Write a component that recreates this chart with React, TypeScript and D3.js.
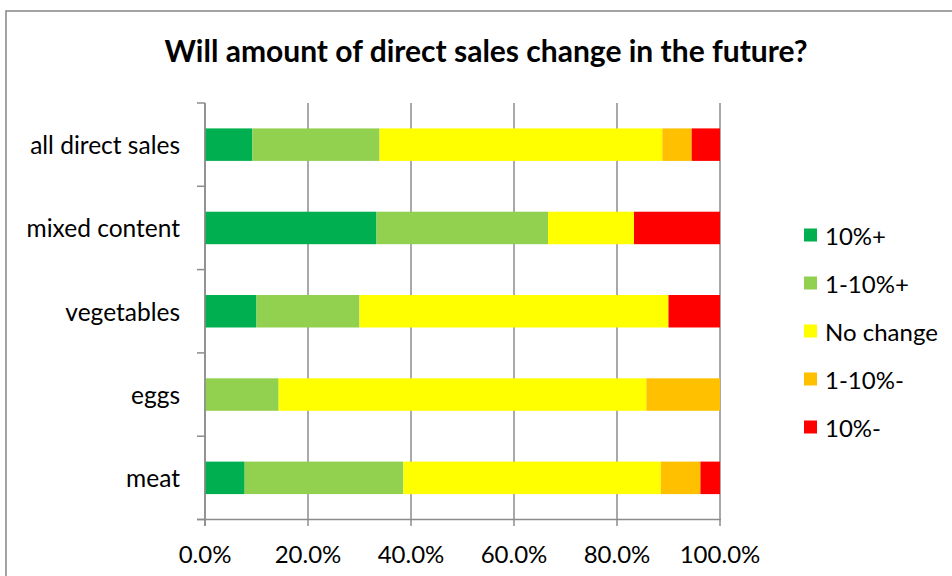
import React from "react";
import * as d3 from "d3";

const categories = ["all direct sales", "mixed content", "vegetables", "eggs", "meat"];
const seriesNames = ["10%+", "1-10%+", "No change", "1-10%-", "10%-"];
const seriesColors = ["#00B050", "#92D050", "#FFFF00", "#FFC000", "#FF0000"];
// values in % per category, order matches seriesNames
const up10 = [9.2, 33.3, 10.0, 0, 7.7];
const up1to10 = [24.7, 33.3, 20.0, 14.3, 30.8];
const noChange = [54.9, 16.7, 60.0, 71.4, 50.0];
const down1to10 = [5.7, 0, 0, 14.3, 7.7];
const down10 = [5.5, 16.7, 10.0, 0, 3.8];
const xTicks = [0, 20, 40, 60, 80, 100];

const W = 952;
const H = 576;
const FONT = "Lato, 'Open Sans', sans-serif";

export default function App() {
  const x = d3.scaleLinear().domain([0, 100]).range([205, 720]);
  const y = d3.scaleBand().domain(categories).range([103, 519.5]).paddingInner(0.61).paddingOuter(0.305);

  const rows = categories.map((c, i) => {
    const vals = [up10[i], up1to10[i], noChange[i], down1to10[i], down10[i]];
    return { c, vals };
  });
  const stacked = d3.stack<any>().keys(seriesNames.map((_, k) => String(k)))(
    rows.map((r) => {
      const o: any = { c: r.c };
      r.vals.forEach((v, k) => (o[String(k)] = v));
      return o;
    })
  );

  const bandTicks = categories.map((c) => (y(c) as number) - (y.step() * y.paddingInner()) / 2);
  bandTicks.push(519.5);

  return (
    <svg width={W} height={H} style={{ position: "absolute", left: 0, top: 0 }}>
      <rect x={0} y={0} width={W} height={H} fill="#fff" />
      <rect x={6} y={11} width={W + 20} height={H + 20} fill="none" stroke="#8c8c8c" strokeWidth={1.6} />
      <text x={486} y={62} textAnchor="middle" fontFamily={FONT} fontWeight="bold" fontSize={30} fill="#000">
        Will amount of direct sales change in the future?
      </text>
      {/* gridlines */}
      {xTicks.map((t) => (
        <line key={"g" + t} x1={x(t)} x2={x(t)} y1={103} y2={526} stroke="#8c8c8c" strokeWidth={1.5} />
      ))}
      {/* y-axis ticks */}
      {bandTicks.map((t, i) => (
        <line key={"yt" + i} x1={197} x2={205} y1={t} y2={t} stroke="#8c8c8c" strokeWidth={1.5} />
      ))}
      {/* bars */}
      {stacked.map((s, k) =>
        s.map((d: any, i: number) =>
          d[1] - d[0] > 0 ? (
            <rect
              key={k + "-" + i}
              x={x(d[0])}
              y={y(categories[i]) as number}
              width={x(d[1]) - x(d[0])}
              height={y.bandwidth()}
              fill={seriesColors[k]}
            />
          ) : null
        )
      )}
      {/* axes lines */}
      <line x1={205} x2={205} y1={103} y2={526} stroke="#8c8c8c" strokeWidth={1.5} />
      <line x1={197} x2={721} y1={519.5} y2={519.5} stroke="#8c8c8c" strokeWidth={1.5} />
      {/* category labels */}
      {categories.map((c) => (
        <text
          key={c}
          x={180}
          y={(y(c) as number) + y.bandwidth() / 2}
          textAnchor="end"
          dominantBaseline="central"
          fontFamily={FONT}
          fontSize={24.5}
          fill="#000"
        >
          {c}
        </text>
      ))}
      {/* x tick labels */}
      {xTicks.map((t) => (
        <text key={"xl" + t} x={x(t)} y={553} textAnchor="middle" dominantBaseline="central" fontFamily={FONT} fontSize={24} fill="#000">
          {t.toFixed(1) + "%"}
        </text>
      ))}
      {/* legend */}
      {seriesNames.map((n, k) => (
        <g key={n} transform={`translate(804, ${235 + k * 48})`}>
          <rect x={0} y={-6.5} width={13} height={13} fill={seriesColors[k]} />
          <text x={21} y={0} dominantBaseline="central" fontFamily={FONT} fontSize={24} fill="#000">
            {n}
          </text>
        </g>
      ))}
    </svg>
  );
}
